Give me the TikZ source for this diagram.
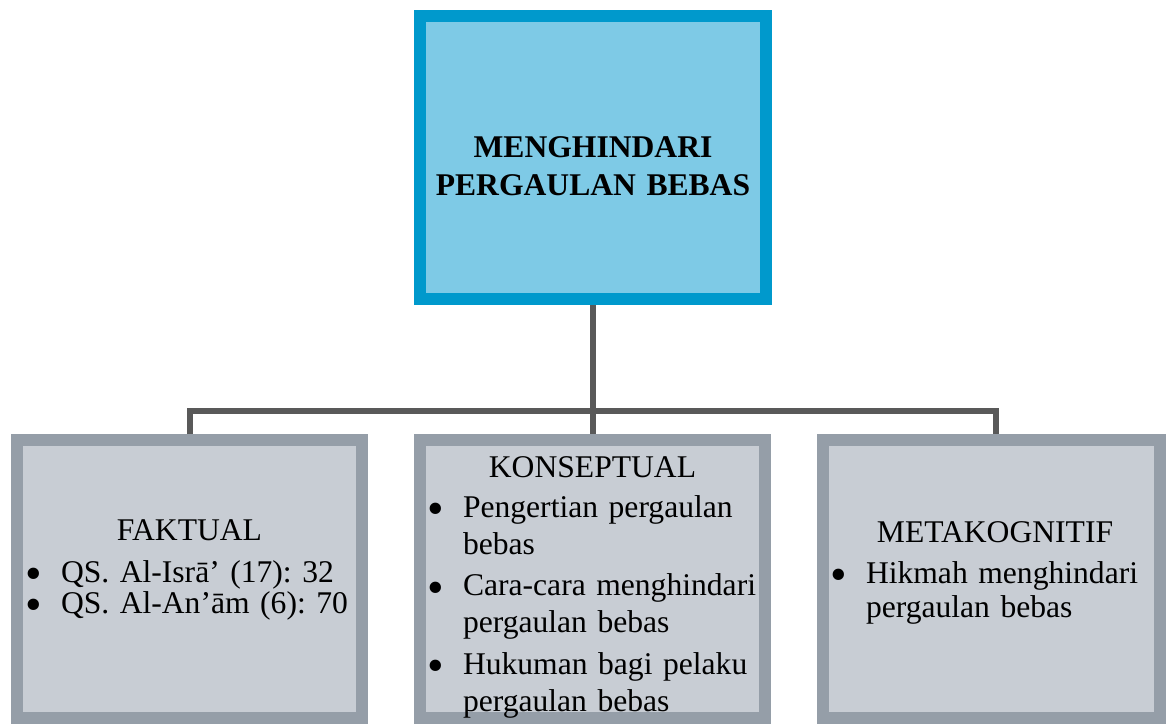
\documentclass[tikz,border=0pt]{standalone}
\usepackage{graphicx}
\usepackage{fontspec}
\setmainfont{Liberation Serif}

\definecolor{biruTepi}{RGB}{0,153,204}
\definecolor{biruIsi}{RGB}{126,202,230}
\definecolor{abuTepi}{RGB}{149,158,168}
\definecolor{abuIsi}{RGB}{200,205,212}
\definecolor{abuGaris}{RGB}{89,89,89}

\newcommand{\judul}[2]{{\centering #1\par}\vspace{#2}}
\newcommand{\titik}{\raisebox{-7.5pt}[0pt][0pt]{\scalebox{1.5}{\textbullet}}}
\newcommand{\butir}[2][0pt]{\vspace{#1}\hangindent=36pt\hangafter=1\noindent\makebox[36pt][l]{\titik}#2\par}

\begin{document}
\frenchspacing
\begin{tikzpicture}[x=1pt,y=-1pt,
	kotakUtama/.style={draw=biruTepi,fill=biruIsi,line width=12pt,minimum width=346pt,minimum height=283pt,outer sep=6pt},
	kotakBawah/.style={draw=abuTepi,fill=abuIsi,line width=12pt,minimum width=345pt,minimum height=278pt,outer sep=6pt},
	isi/.style={inner sep=0pt,anchor=north,text width=329pt,align=left},
	garis/.style={draw=abuGaris,line width=6pt}]
			
				\useasboundingbox (0,0) rectangle (1166,724);
				
				\node[kotakUtama] (utama) at (593,157.5) {};
				\node[kotakBawah] (faktual) at (189.5,579) {};
				\node[kotakBawah] (konseptual) at (592.5,579) {};
				\node[kotakBawah,minimum width=337pt] (metakognitif) at (991.5,579) {};
				
				\coordinate (cabang) at (593,410.5);
				\coordinate (turunKanan) at (996,434);
				\draw[garis] (utama.south) -- (utama.south |- konseptual.north);
				\draw[garis] (faktual.north) -- (faktual.north |- cabang) -- (turunKanan |- cabang) -- (turunKanan);
				
				\node[isi,align=center,font=\fontsize{31.6}{38}\selectfont\bfseries] (utamaIsi) at (593,136) {MENGHINDARI\\PERGAULAN BEBAS};
				
				\node[isi,font=\fontsize{31.6}{31}\selectfont] (faktualIsi) at (189.5,519)
					{\judul{FAKTUAL}{11pt}\butir{QS. Al-Isrā’ (17): 32}\butir{QS. Al-An’ām (6): 70}};
				\node[isi,text width=331pt,font=\fontsize{31.6}{37}\selectfont] (konseptualIsi) at (592.5,456)
					{\judul{KONSEPTUAL}{3pt}\butir{Pengertian pergaulan bebas}\butir[4.5pt]{Cara-cara menghindari pergaulan bebas}\butir[4.5pt]{Hukuman bagi pelaku pergaulan bebas}};
				\node[isi,text width=330pt,font=\fontsize{31.6}{34}\selectfont] (metakognitifIsi) at (995,521)
					{\judul{METAKOGNITIF}{7pt}\butir{Hikmah menghindari pergaulan bebas}};
			\end{tikzpicture}
\end{document}
